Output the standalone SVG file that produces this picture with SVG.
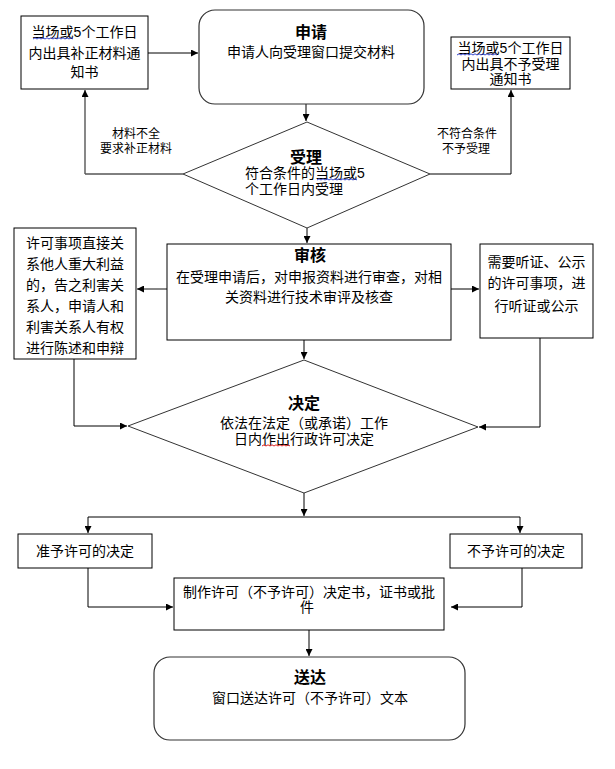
<svg xmlns="http://www.w3.org/2000/svg" width="615" height="769" viewBox="0 0 615 769">
<style>
text{font-family:"Liberation Sans","Noto Sans CJK SC",sans-serif;font-size:14px;fill:#000}
.t{font-size:16px;font-weight:bold}
.s{font-size:12px}
.c{text-anchor:middle}
.box{fill:#fff;stroke:#000;stroke-width:1}
.rbox{fill:#fff;stroke:#333;stroke-width:1.2}
.dia{fill:#fff;stroke:#333;stroke-width:1}
.ln{fill:none;stroke:#000;stroke-width:1}
.gl{fill:none;stroke:#555;stroke-width:1.4}
.wb{fill:none;stroke:#3344cc;stroke-width:1}
.wr{fill:none;stroke:#dd2222;stroke-width:1}
</style>
<defs>
<marker id="ah" viewBox="0 0 10 10" refX="10" refY="5" markerWidth="7" markerHeight="7" markerUnits="userSpaceOnUse" orient="auto">
<path d="M0,0 L10,5 L0,10 Z" fill="#000"/>
</marker>
</defs>
<rect width="615" height="769" fill="#fff"/>

<g id="connectors">
<line class="ln" x1="148" y1="53" x2="198" y2="53" marker-end="url(#ah)"/>
<line class="ln" x1="306" y1="104" x2="306" y2="121" marker-end="url(#ah)"/>
<polyline class="ln" points="183,174 85,174"/>
<polyline class="gl" points="85,174 85,90" marker-end="url(#ah)"/>
<polyline class="ln" points="430,174 511,174 511,90" marker-end="url(#ah)"/>
<line class="ln" x1="307" y1="228" x2="307" y2="243" marker-end="url(#ah)"/>
<line class="gl" x1="167" y1="289" x2="137" y2="289" marker-end="url(#ah)"/>
<line class="ln" x1="451" y1="289" x2="479" y2="289" marker-end="url(#ah)"/>
<line class="ln" x1="304" y1="340" x2="304" y2="359" marker-end="url(#ah)"/>
<polyline class="ln" points="74,359 74,426 127,426" marker-end="url(#ah)"/>
<polyline class="ln" points="540,338 540,427 479,427" marker-end="url(#ah)"/>
<line class="ln" x1="304" y1="493" x2="304" y2="516" marker-end="url(#ah)"/>
<polyline class="ln" points="88,517 520,517"/>
<line class="ln" x1="88" y1="517" x2="88" y2="533" marker-end="url(#ah)"/>
<line class="ln" x1="520" y1="517" x2="520" y2="533" marker-end="url(#ah)"/>
<polyline class="ln" points="88,568 88,607 173,607" marker-end="url(#ah)"/>
<polyline class="ln" points="522,568 522,607 451,607" marker-end="url(#ah)"/>
<line class="ln" x1="309" y1="630" x2="309" y2="656" marker-end="url(#ah)"/>
</g>

<g id="label-incomplete">
<text class="s c" x="136" y="138">材料不全</text>
<text class="s c" x="136" y="153">要求补正材料</text>
</g>
<g id="label-reject">
<text class="s c" x="467" y="138">不符合条件</text>
<text class="s c" x="466" y="153">不予受理</text>
</g>

<g id="node-supplement">
<rect class="box" x="21" y="16" width="127" height="73"/>
<text class="c" x="84.5" y="37">当场或5个工作日</text>
<text class="c" x="84.5" y="58">内出具补正材料通</text>
<text class="c" x="84.5" y="77">知书</text>
<path class="wb" d="M33,39 l2,-1.2 l2,1.2 l2,-1.2 l2,1.2 l2,-1.2 l2,1.2 l2,-1.2 l2,1.2 l2,-1.2 l2,1.2 l2,-1.2 l2,1.2 l2,-1.2 l2,1.2 l2,-1.2 l2,1.2 l2,-1.2 l2,1.2 l2,-1.2 l2,1.2"/>
</g>

<g id="node-apply">
<rect class="rbox" x="199" y="10" width="225" height="94" rx="16" ry="16"/>
<text class="t c" x="311" y="38">申请</text>
<text class="c" x="311" y="57">申请人向受理窗口提交材料</text>
</g>

<g id="node-notaccept">
<rect class="box" x="451" y="37" width="119" height="52"/>
<text class="c" x="510.5" y="53">当场或5个工作日</text>
<text class="c" x="510.5" y="69">内出具不予受理</text>
<text class="c" x="510.5" y="84">通知书</text>
<path class="wb" d="M457,55 l2,-1.2 l2,1.2 l2,-1.2 l2,1.2 l2,-1.2 l2,1.2 l2,-1.2 l2,1.2 l2,-1.2 l2,1.2 l2,-1.2 l2,1.2 l2,-1.2 l2,1.2 l2,-1.2 l2,1.2 l2,-1.2 l2,1.2 l2,-1.2 l2,1.2"/>
</g>

<g id="node-accept">
<polygon class="dia" points="307,122 430,174 307,228 183,174"/>
<text class="t c" x="306" y="163">受理</text>
<text x="245" y="178">符合条件的当场或5</text>
<text x="245" y="194">个工作日内受理</text>
<path class="wb" d="M317,180 l2,-1.2 l2,1.2 l2,-1.2 l2,1.2 l2,-1.2 l2,1.2 l2,-1.2 l2,1.2 l2,-1.2 l2,1.2 l2,-1.2 l2,1.2 l2,-1.2 l2,1.2 l2,-1.2 l2,1.2 l2,-1.2 l2,1.2 l2,-1.2 l2,1.2"/>
</g>

<g id="node-review">
<rect class="box" x="167" y="244" width="284" height="96"/>
<text class="t c" x="310" y="261">审核</text>
<text class="c" x="309" y="282">在受理申请后，对申报资料进行审查，对相</text>
<text class="c" x="309" y="302">关资料进行技术审评及核查</text>
</g>

<g id="node-interest">
<rect class="box" x="14" y="228" width="122" height="131"/>
<text class="c" x="75" y="248">许可事项直接关</text>
<text class="c" x="75" y="269">系他人重大利益</text>
<text class="c" x="75" y="290">的，告之利害关</text>
<text class="c" x="75" y="311">系人，申请人和</text>
<text class="c" x="75" y="332">利害关系人有权</text>
<text class="c" x="75" y="353">进行陈述和申辩</text>
</g>

<g id="node-hearing">
<rect class="box" x="480" y="244" width="113" height="94"/>
<text class="c" x="536.5" y="267">需要听证、公示</text>
<text class="c" x="536.5" y="288">的许可事项，进</text>
<text class="c" x="536.5" y="311">行听证或公示</text>
</g>

<g id="node-decide">
<polygon class="dia" points="304,360 478,427 304,493 128,426"/>
<text class="t c" x="304" y="409">决定</text>
<text class="c" x="304" y="428">依法在法定（或承诺）工作</text>
<text class="c" x="304" y="444">日内作出行政许可决定</text>
<path class="wr" d="M262,446 l2,-1.2 l2,1.2 l2,-1.2 l2,1.2 l2,-1.2 l2,1.2 l2,-1.2 l2,1.2 l2,-1.2 l2,1.2 l2,-1.2 l2,1.2 l2,-1.2 l2,1.2"/>
</g>

<g id="node-grant">
<rect class="box" x="18" y="534" width="134" height="34"/>
<text class="c" x="85" y="556">准予许可的决定</text>
</g>

<g id="node-deny">
<rect class="box" x="450" y="534" width="132" height="34"/>
<text class="c" x="516" y="556">不予许可的决定</text>
</g>

<g id="node-make">
<rect class="box" x="174" y="578" width="270" height="52"/>
<text class="c" x="309" y="597">制作许可（不予许可）决定书，证书或批</text>
<text class="c" x="307" y="612">件</text>
</g>

<g id="node-deliver">
<rect class="rbox" x="154" y="657" width="311" height="83" rx="16" ry="16"/>
<text class="t c" x="310" y="683">送达</text>
<text class="c" x="310" y="703">窗口送达许可（不予许可）文本</text>
</g>
</svg>
